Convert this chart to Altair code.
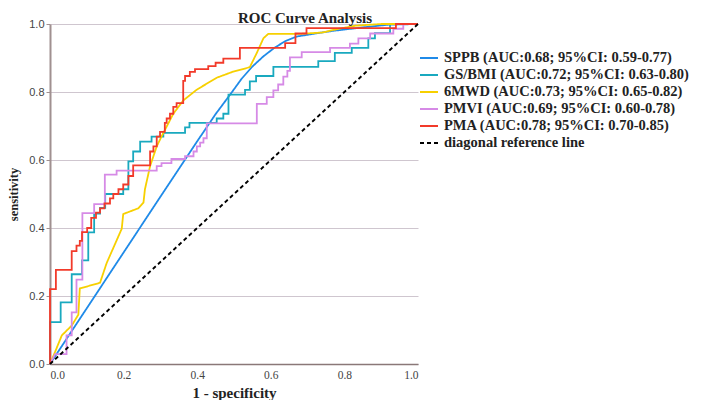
import altair as alt
import pandas as pd

SERIES = [
    "SPPB (AUC:0.68; 95%CI: 0.59-0.77)",
    "GS/BMI (AUC:0.72; 95%CI: 0.63-0.80)",
    "6MWD (AUC:0.73; 95%CI: 0.65-0.82)",
    "PMVI (AUC:0.69; 95%CI: 0.60-0.78)",
    "PMA (AUC:0.78; 95%CI: 0.70-0.85)",
    "diagonal reference line",
]
COLORS = ["#1f8ae8", "#19a9bf", "#f7d000", "#d68ae6", "#f23a2a", "#000000"]
DASHES = [[1, 0], [1, 0], [1, 0], [1, 0], [1, 0], [4, 3]]

SPPB_X = [0, 0.1, 0.2, 0.3, 0.4, 0.45, 0.49, 0.52, 0.55, 0.58, 0.61, 0.64, 0.67, 0.72, 0.77, 0.85, 0.92, 1.0]
SPPB_Y = [0, 0.164, 0.328, 0.492, 0.655, 0.735, 0.793, 0.838, 0.875, 0.905, 0.93, 0.95, 0.963, 0.972, 0.98, 0.99, 0.998, 1.0]

GS_X = [0, 0, 0.029, 0.029, 0.059, 0.059, 0.087, 0.087, 0.104, 0.104, 0.12, 0.12, 0.136, 0.136, 0.15, 0.15,
        0.199, 0.199, 0.213, 0.213, 0.226, 0.226, 0.245, 0.245, 0.276, 0.276, 0.308, 0.308, 0.367, 0.367,
        0.379, 0.379, 0.453, 0.453, 0.471, 0.471, 0.485, 0.485, 0.53, 0.53, 0.543, 0.543, 0.56, 0.56,
        0.607, 0.607, 0.729, 0.729, 0.774, 0.774, 0.82, 0.82, 0.865, 0.865, 0.883, 0.883, 0.924, 0.924, 1.0]
GS_Y = [0, 0.123, 0.123, 0.181, 0.181, 0.264, 0.264, 0.305, 0.305, 0.387, 0.387, 0.442, 0.442, 0.459, 0.459, 0.50,
        0.50, 0.514, 0.514, 0.596, 0.596, 0.625, 0.625, 0.654, 0.654, 0.669, 0.669, 0.68, 0.68, 0.696,
        0.696, 0.709, 0.709, 0.722, 0.722, 0.736, 0.736, 0.792, 0.792, 0.806, 0.806, 0.831, 0.831, 0.847,
        0.847, 0.874, 0.874, 0.891, 0.891, 0.915, 0.915, 0.93, 0.93, 0.958, 0.958, 0.973, 0.973, 1.0, 1.0]

MWD_X = [0, 0.014, 0.032, 0.059, 0.077, 0.081, 0.136, 0.154, 0.195, 0.199, 0.24, 0.254, 0.258, 0.272, 0.29,
         0.303, 0.335, 0.362, 0.399, 0.453, 0.498, 0.543, 0.562, 0.58, 0.593, 0.68, 0.74, 0.78, 0.83, 0.9, 1.0]
MWD_Y = [0, 0.036, 0.084, 0.113, 0.145, 0.222, 0.239, 0.297, 0.398, 0.441, 0.458, 0.475, 0.514, 0.582, 0.64,
         0.669, 0.736, 0.775, 0.807, 0.842, 0.86, 0.873, 0.915, 0.958, 0.971, 0.971, 0.975, 0.985, 0.995, 1.0, 1.0]

PMVI_X = [0, 0.014, 0.045, 0.045, 0.059, 0.059, 0.072, 0.072, 0.088, 0.088, 0.12, 0.12, 0.149, 0.149, 0.181, 0.181,
          0.29, 0.29, 0.303, 0.303, 0.33, 0.33, 0.367, 0.367, 0.39, 0.39, 0.399, 0.399, 0.408, 0.408, 0.417, 0.417,
          0.426, 0.426, 0.562, 0.562, 0.589, 0.589, 0.607, 0.607, 0.62, 0.62, 0.634, 0.634, 0.645, 0.645,
          0.652, 0.652, 0.684, 0.684, 0.761, 0.761, 0.815, 0.815, 0.838, 0.838, 0.87, 0.87, 0.933, 0.933,
          0.96, 0.96, 1.0]
PMVI_Y = [0, 0.029, 0.029, 0.084, 0.084, 0.152, 0.152, 0.248, 0.248, 0.444, 0.444, 0.47, 0.47, 0.557, 0.557, 0.569,
          0.569, 0.582, 0.582, 0.591, 0.591, 0.603, 0.603, 0.611, 0.611, 0.625, 0.625, 0.64, 0.64, 0.651, 0.651, 0.664,
          0.664, 0.708, 0.708, 0.765, 0.765, 0.785, 0.785, 0.805, 0.805, 0.822, 0.822, 0.845, 0.845, 0.862,
          0.862, 0.902, 0.902, 0.917, 0.917, 0.93, 0.93, 0.942, 0.942, 0.958, 0.958, 0.972, 0.972, 0.986,
          0.986, 1.0, 1.0]

PMA_X = [0, 0, 0.016, 0.016, 0.059, 0.059, 0.072, 0.072, 0.081, 0.081, 0.087, 0.087, 0.101, 0.101, 0.112, 0.112,
         0.125, 0.125, 0.136, 0.136, 0.148, 0.148, 0.163, 0.163, 0.172, 0.172, 0.186, 0.186, 0.199, 0.199,
         0.213, 0.213, 0.226, 0.226, 0.272, 0.272, 0.281, 0.281, 0.29, 0.29, 0.299, 0.299, 0.312, 0.312,
         0.317, 0.317, 0.326, 0.326, 0.335, 0.335, 0.344, 0.344, 0.362, 0.362, 0.367, 0.367, 0.38, 0.38,
         0.394, 0.394, 0.43, 0.43, 0.45, 0.45, 0.471, 0.471, 0.485, 0.485, 0.516, 0.516, 0.639, 0.639,
         0.667, 0.667, 0.697, 0.697, 0.94, 0.94, 1.0]
PMA_Y = [0, 0.22, 0.22, 0.277, 0.277, 0.332, 0.332, 0.348, 0.348, 0.362, 0.362, 0.388, 0.388, 0.40, 0.40, 0.43,
         0.43, 0.445, 0.445, 0.458, 0.458, 0.472, 0.472, 0.487, 0.487, 0.50, 0.50, 0.514, 0.514, 0.528,
         0.528, 0.553, 0.553, 0.584, 0.584, 0.625, 0.625, 0.64, 0.64, 0.669, 0.669, 0.683, 0.683, 0.709,
         0.709, 0.722, 0.722, 0.736, 0.736, 0.756, 0.756, 0.767, 0.767, 0.833, 0.833, 0.847, 0.847, 0.859,
         0.859, 0.867, 0.867, 0.876, 0.876, 0.886, 0.886, 0.898, 0.898, 0.898, 0.898, 0.93, 0.93, 0.944,
         0.944, 0.972, 0.972, 0.988, 0.988, 1.0, 1.0]

DIAG_X = [0, 1]
DIAG_Y = [0, 1]

TICKS = [0, 0.2, 0.4, 0.6, 0.8, 1.0]

rows = []
for name, xs, ys in zip(SERIES, [SPPB_X, GS_X, MWD_X, PMVI_X, PMA_X, DIAG_X],
                        [SPPB_Y, GS_Y, MWD_Y, PMVI_Y, PMA_Y, DIAG_Y]):
    for i, (a, b) in enumerate(zip(xs, ys)):
        rows.append({"series": name, "fpr": a, "tpr": b, "idx": i})
df = pd.DataFrame(rows)

legend = alt.Legend(
    title=None, orient="none", legendX=369, legendY=24,
    symbolType="stroke", symbolSize=324, symbolStrokeWidth=2,
    labelFont="Liberation Serif", labelFontWeight="bold", labelFontSize=14.5,
    labelColor="#222222", rowPadding=-5.5, labelOffset=5, labelLimit=400,
)

chart = alt.Chart(df).mark_line(strokeWidth=1.8).encode(
    x=alt.X("fpr:Q", scale=alt.Scale(domain=[0, 1], nice=False),
            axis=alt.Axis(title="1 - specificity", values=TICKS, format=".1f", grid=False,
                          labelFont="Liberation Serif", labelFontSize=11.5, labelColor="#444444",
                          titleFont="Liberation Serif", titleFontSize=15, titleFontWeight="bold",
                          titleColor="#222222", titlePadding=5, domainColor="#8a7878", domainWidth=1.5,
                          ticks=False, labelPadding=5)),
    y=alt.Y("tpr:Q", scale=alt.Scale(domain=[0, 1], nice=False),
            axis=alt.Axis(title="sensitivity", values=TICKS, format=".1f", grid=True,
                          gridColor="#cfc6cf", gridWidth=1,
                          labelFont="Liberation Sans", labelFontSize=11, labelColor="#444444",
                          titleFont="Liberation Serif", titleFontSize=12.5, titleFontWeight="bold",
                          titleColor="#222222", titlePadding=8, domainColor="#a09090", domainWidth=2,
                          tickSize=4, tickColor="#a09090", labelPadding=2)),
    color=alt.Color("series:N", scale=alt.Scale(domain=SERIES, range=COLORS), legend=legend),
    strokeDash=alt.StrokeDash("series:N", scale=alt.Scale(domain=SERIES, range=DASHES), legend=legend),
    detail="series:N",
    order="idx:Q",
).properties(
    width=368, height=340,
    title=alt.TitleParams("ROC Curve Analysis", font="Liberation Serif", fontSize=15,
                          fontWeight="bold", color="#222222", offset=-20, baseline="alphabetic",
                          anchor="middle", dx=71),
    padding={"left": 42, "top": 16, "right": 285, "bottom": 36},
    autosize=alt.AutoSizeParams(type="none"),
).configure_view(stroke=None)

chart.save("out.html", embed_options={"renderer": "svg", "actions": False})
